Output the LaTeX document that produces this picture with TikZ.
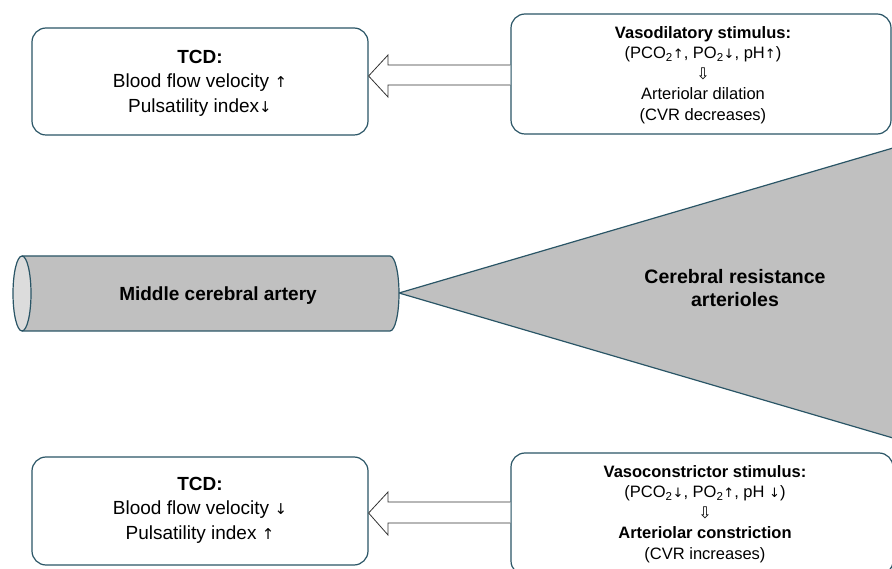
\documentclass[tikz,border=0pt]{standalone}
\usepackage{fontspec}
\setmainfont{Liberation Sans}
\newfontfamily\symf{DejaVu Sans}
\definecolor{edge}{HTML}{2A5566}
\definecolor{vessel}{HTML}{C0C0C0}
\definecolor{capfill}{HTML}{DCDCDC}
\newcommand{\bup}{{\symf\fontsize{15}{0}\selectfont ↑}}
\newcommand{\bdn}{{\symf\fontsize{15}{0}\selectfont ↓}}
\newcommand{\aup}{{\symf\fontsize{13}{0}\selectfont ↑}}
\newcommand{\adn}{{\symf\fontsize{13}{0}\selectfont ↓}}
\newcommand{\thn}{{\symf\fontsize{16}{0}\selectfont ⇩}}
\begin{document}
\begin{tikzpicture}[x=1pt,y=-1pt,
  infobox/.style={draw=edge,line width=1.2pt,rounded corners=14pt,fill=white,inner sep=0pt},
  hollow/.style={draw=black!80,line width=0.8pt,fill=white},
  body/.style={align=center,font=\fontsize{19}{24.5}\selectfont},
  small/.style={align=center,font=\fontsize{16.5}{20.5}\selectfont}]
\useasboundingbox (0,0) rectangle (892,569);
\clip (0,0) rectangle (892,569);
% triangle
\coordinate (apex) at (399,293);
\coordinate (ttop) at (893,148);
\coordinate (tbot) at (893,438);
\fill[vessel] (apex) -- (ttop) -- (tbot) -- cycle;
\draw[edge,line width=1.2pt] (ttop) -- (apex) -- (tbot);
\node[font=\fontsize{19.5}{23}\selectfont\bfseries,align=center] (arterioles) at (735,288) {Cerebral resistance\\arterioles};
% cylinder
\fill[vessel] (22,256) -- (390,256) arc[start angle=-90,end angle=90,x radius=9,y radius=37.5] -- (22,331) -- cycle;
\draw[edge,line width=1.2pt] (22,256) -- (390,256) arc[start angle=-90,end angle=90,x radius=9,y radius=37.5] -- (22,331);
\draw[edge,line width=1.2pt,fill=capfill] (22,293.5) ellipse[x radius=9,y radius=37.5];
\node[font=\fontsize{19}{22}\selectfont\bfseries] (mca) at (218,296) {Middle cerebral artery};
% boxes
\node[infobox,minimum width=336,minimum height=107] (tcdtop) at (200,81.5) {};
\node[body] (tcdtoptext) at (200,83)
  {\textbf{TCD:}\\Blood flow velocity \bup\\Pulsatility index\bdn};
\node[infobox,minimum width=380,minimum height=120] (dil) at (701,74) {};
\node[small] (diltext) at (703,75)
  {\textbf{Vasodilatory stimulus:}\\(PCO\textsubscript{2}\aup, PO\textsubscript{2}\adn, pH\aup)\\\thn\\Arteriolar dilation\\(CVR decreases)};
\node[infobox,minimum width=336,minimum height=108] (tcdbot) at (200,511) {};
\node[body] (tcdbottext) at (200,510)
  {\textbf{TCD:}\\Blood flow velocity \bdn\\Pulsatility index \bup};
\node[infobox,minimum width=382,minimum height=122] (con) at (702,514) {};
\node[small] (context) at (705,514)
  {\textbf{Vasoconstrictor stimulus:}\\(PCO\textsubscript{2}\adn, PO\textsubscript{2}\aup, pH \adn)\\\thn\\\textbf{Arteriolar constriction}\\(CVR increases)};
% hollow arrows
\draw[hollow] (dil.west |- 0,65) -- (388,65) -- (388,55) -- (tcdtop.east |- 0,76) -- (388,97) -- (388,85) -- (dil.west |- 0,85);
\draw[hollow] (con.west |- 0,502) -- (388,502) -- (388,492) -- (tcdbot.east |- 0,513) -- (388,535) -- (388,523) -- (con.west |- 0,523);
\end{tikzpicture}
\end{document}
